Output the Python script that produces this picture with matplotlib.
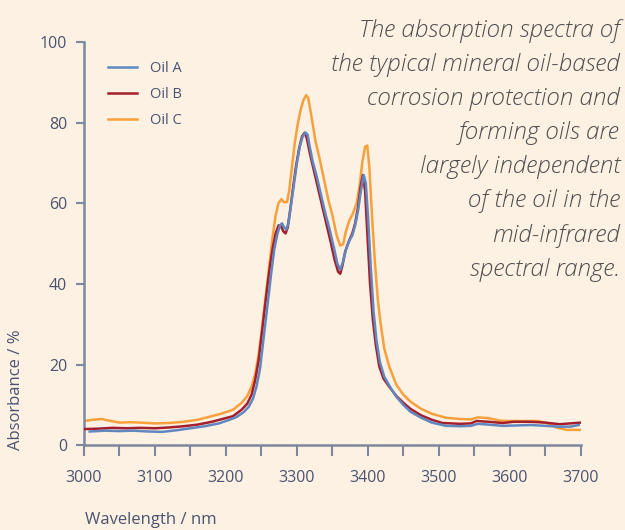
import matplotlib
matplotlib.use('Agg')
import matplotlib.pyplot as plt
from matplotlib.ticker import MultipleLocator

# Oil A (blue)
wl_a = [3008, 3030, 3050, 3070, 3090, 3110, 3130, 3150, 3170, 3190, 3205, 3215, 3225, 3232, 3238,
        3243, 3248, 3252, 3256, 3260, 3264, 3268, 3272, 3276, 3279, 3282, 3285, 3288, 3292, 3296,
        3300, 3304, 3308, 3312, 3315, 3318, 3322, 3328, 3334, 3340, 3346, 3352, 3357, 3361, 3365,
        3369, 3374, 3378, 3382, 3386, 3390, 3394, 3397, 3400, 3404, 3408, 3412, 3417, 3423, 3431,
        3440, 3450, 3460, 3475, 3490, 3510, 3530, 3545, 3555, 3570, 3590, 3610, 3630, 3650, 3670,
        3685, 3697]
abs_a = [3.4, 3.6, 3.5, 3.6, 3.4, 3.3, 3.7, 4.2, 4.7, 5.4, 6.3, 7.0, 8.2, 9.5, 11.5,
         14.5, 19, 25, 31, 37, 43, 48.5, 52, 54.5, 55, 54, 53.5, 55, 60, 65,
         70, 74, 76.5, 77.5, 77, 74, 70.5, 66.5, 62, 57.5, 53.5, 49, 45, 43.5, 45.5,
         48.5, 50.8, 52, 54.5, 58, 63, 67, 65, 57, 44, 33, 26, 20.5, 17, 14.5,
         12, 10, 8.3, 6.8, 5.6, 4.8, 4.7, 4.8, 5.3, 5.1, 4.8, 4.9, 5.0, 4.8, 4.6,
         4.6, 5.0]

# Oil B (red)
wl_b = [3000, 3020, 3040, 3060, 3080, 3100, 3120, 3140, 3160, 3180, 3195, 3210, 3222, 3230, 3236,
        3241, 3246, 3250, 3254, 3258, 3262, 3266, 3270, 3274, 3277, 3281, 3284, 3287, 3291, 3295,
        3299, 3303, 3307, 3311, 3314, 3318, 3324, 3330, 3336, 3342, 3348, 3353, 3358, 3361, 3364,
        3368, 3373, 3378, 3382, 3386, 3390, 3393, 3396, 3399, 3403, 3407, 3411, 3416, 3422, 3430,
        3440, 3450, 3460, 3475, 3490, 3505, 3530, 3545, 3553, 3570, 3590, 3605, 3630, 3650, 3670,
        3685, 3700]
abs_b = [4.0, 4.1, 4.3, 4.2, 4.3, 4.2, 4.4, 4.7, 5.1, 5.8, 6.5, 7.2, 8.8, 10.3, 12.5,
         16, 21, 27, 33, 39, 44.5, 49, 52.5, 54.5, 54.5, 53, 52.5, 54, 59, 64.5,
         69.5, 73.5, 76.5, 77.5, 76, 72.5, 68, 63.5, 59, 54.5, 50, 46, 43, 42.5, 44.5,
         48, 50.5, 52.5, 55, 59, 64.5, 67, 63, 53, 40, 31, 25, 19.5, 16.5, 14.5,
         12.2, 10.5, 9.0, 7.4, 6.3, 5.5, 5.3, 5.4, 6.0, 5.8, 5.5, 5.8, 5.8, 5.6, 5.2,
         5.4, 5.6]

# Oil C (orange)
wl_c = [3000, 3012, 3025, 3035, 3050, 3065, 3080, 3100, 3120, 3140, 3160, 3180, 3195, 3210, 3222,
        3230, 3236, 3241, 3246, 3250, 3254, 3258, 3262, 3266, 3270, 3274, 3278, 3282, 3286, 3289,
        3293, 3297, 3301, 3305, 3309, 3313, 3316, 3320, 3326, 3332, 3338, 3344, 3350, 3356, 3361,
        3365, 3369, 3374, 3379, 3384, 3388, 3392, 3396, 3399, 3402, 3406, 3410, 3414, 3418, 3423,
        3430, 3440, 3450, 3460, 3475, 3490, 3510, 3530, 3545, 3555, 3570, 3585, 3600, 3620, 3640,
        3655, 3665, 3680, 3700]
abs_c = [6.0, 6.3, 6.5, 6.1, 5.6, 5.7, 5.6, 5.4, 5.5, 5.8, 6.3, 7.2, 7.9, 8.8, 10.5,
         12.2, 14.5, 17.5, 22.5, 28, 34, 40, 46, 52, 57, 60, 61, 60.2, 60.3, 63,
         69, 75, 79.5, 83, 85.5, 86.8, 86, 82, 75.5, 71, 66, 61, 57, 52, 49.5,
         49.8, 53, 55.8, 57.5, 60, 64, 70, 74, 74.3, 69, 56, 45, 36, 30, 24,
         19.5, 15, 12.5, 10.8, 9.0, 7.8, 6.8, 6.5, 6.4, 6.9, 6.7, 6.1, 6.0, 6.0, 6.0,
         5.3, 4.4, 3.8, 3.8]

note = ("The absorption spectra of\nthe typical mineral oil-based\ncorrosion protection and\n"
        "forming oils are\nlargely independent\nof the oil in the\nmid-infrared\nspectral range.")

bg = '#fdf1e4'
axis_col = '#7d879d'
text_col = '#4b5370'

plt.rcParams['font.family'] = ['Open Sans', 'DejaVu Sans']

fig = plt.figure(figsize=(6.25, 5.30), dpi=100, facecolor=bg)
ax = fig.add_axes([0.1344, 0.160, 0.795, 0.761])
ax.set_facecolor(bg)

ax.plot(wl_c, abs_c, color='#f7a03c', lw=1.8, label='Oil C', zorder=2)
ax.plot(wl_b, abs_b, color='#a31f2e', lw=1.8, label='Oil B', zorder=3)
ax.plot(wl_a, abs_a, color='#6088bf', lw=1.8, label='Oil A', zorder=4)

ax.set_xlim(3000, 3700)
ax.set_ylim(0, 100)
ax.xaxis.set_major_locator(MultipleLocator(100))
ax.xaxis.set_minor_locator(MultipleLocator(50))
ax.yaxis.set_major_locator(MultipleLocator(20))

for s in ['top', 'right']:
    ax.spines[s].set_visible(False)
for s in ['left', 'bottom']:
    ax.spines[s].set_color(axis_col)
    ax.spines[s].set_linewidth(1.8)

ax.tick_params(axis='x', which='both', length=8, width=1.5, color=axis_col,
               labelcolor=text_col, labelsize=11.5, pad=10)
ax.tick_params(axis='y', length=6, width=1.5, color=axis_col,
               labelcolor=text_col, labelsize=11.5, pad=6)

handles, labels = ax.get_legend_handles_labels()
order = [2, 1, 0]
ax.legend([handles[i] for i in order], [labels[i] for i in order],
          loc='upper left', bbox_to_anchor=(0.022, 0.985), frameon=False,
          fontsize=10.5, labelcolor=text_col, handlelength=2.0, handletextpad=0.9,
          labelspacing=0.75)

fig.text(0.025, 0.15, 'Absorbance / %', rotation=90, ha='center', va='bottom',
         color=text_col, fontsize=12)
fig.text(0.136, 0.018, 'Wavelength / nm', ha='left', va='center',
         color=text_col, fontsize=12)

fig.text(0.992, 0.964, note, ha='right', va='top', style='italic', fontweight=300,
         color='#4f4f4f', fontsize=17.5, linespacing=1.56)

fig.savefig('out.png', dpi=100, facecolor=bg)
